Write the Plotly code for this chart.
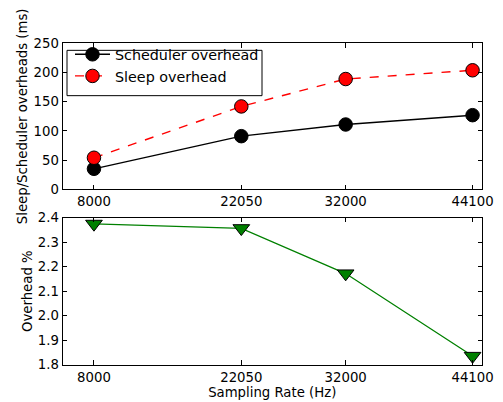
import plotly.graph_objects as go

rates = [8000, 22050, 32000, 44100]
rate_labels = ["8000", "22050", "32000", "44100"]
scheduler_ms = [35, 91, 111, 127]
sleep_ms = [54, 142, 189, 204]
overhead_pct = [2.375, 2.357, 2.172, 1.835]

# the page is photographed at ~0.978 scale, so lay out at a slightly larger size
W, H = 514, 411
S = 503 / W
FONT = dict(family="DejaVu Sans", size=13 / S, color="black")
LFONT = dict(family="DejaVu Sans", size=14 / S, color="black")

fig = go.Figure()
fig.add_trace(go.Scatter(
    x=rates, y=scheduler_ms, mode="lines+markers", name="Scheduler overhead",
    line=dict(color="black", width=1.4),
    marker=dict(color="black", size=13.5, line=dict(color="black", width=1)),
    xaxis="x", yaxis="y"))
fig.add_trace(go.Scatter(
    x=rates, y=sleep_ms, mode="lines+markers", name="Sleep overhead",
    line=dict(color="red", width=1.4, dash="dash"),
    marker=dict(color="red", size=13.5, line=dict(color="black", width=1)),
    xaxis="x", yaxis="y"))
fig.add_trace(go.Scatter(
    x=rates, y=overhead_pct, mode="lines+markers", name="Overhead %",
    line=dict(color="#008000", width=1.3),
    marker=dict(color="#008000", size=14.5, symbol="triangle-down", line=dict(color="black", width=1)),
    xaxis="x2", yaxis="y2", showlegend=False, cliponaxis=False))

axis_common = dict(showline=True, linecolor="black", linewidth=1, mirror="ticks",
                   ticks="inside", ticklen=4.5, tickcolor="black", showgrid=False,
                   zeroline=False, tickfont=FONT)
xd = [62.5/503, 482/503]
fig.update_layout(
    width=W, height=H, margin=dict(l=0, r=0, t=0, b=0),
    paper_bgcolor="white", plot_bgcolor="white", font=FONT,
    xaxis=dict(domain=xd, anchor="y", range=[5000, 45000], tickvals=rates, ticktext=rate_labels, **axis_common),
    yaxis=dict(domain=[1-185/402, 1-37/402], anchor="x", range=[0, 250], dtick=50,
               title=dict(text="Sleep/Scheduler overheads (ms)", font=FONT, standoff=2), **axis_common),
    xaxis2=dict(domain=xd, anchor="y2", range=[5000, 45000], tickvals=rates, ticktext=rate_labels,
                title=dict(text="Sampling Rate (Hz)", font=FONT, standoff=1), **axis_common),
    yaxis2=dict(domain=[1-363/402, 1-214/402], anchor="x2", range=[1.8, 2.4], dtick=0.1, tickformat=".1f",
                title=dict(text="Overhead %", font=FONT, standoff=2), **axis_common),
    legend=dict(x=70/503, y=1-32/402, xanchor="left", yanchor="top", borderwidth=0,
                bgcolor="rgba(0,0,0,0)", font=LFONT, itemwidth=35, tracegroupgap=0),
)
# legend frame (matplotlib-style box)
fig.add_shape(type="rect", xref="paper", yref="paper", x0=67/503, x1=262/503,
              y0=1-90/402, y1=1-44/402, line=dict(color="black", width=1),
              fillcolor="white", layer="above")
fig.write_html("out.html")
